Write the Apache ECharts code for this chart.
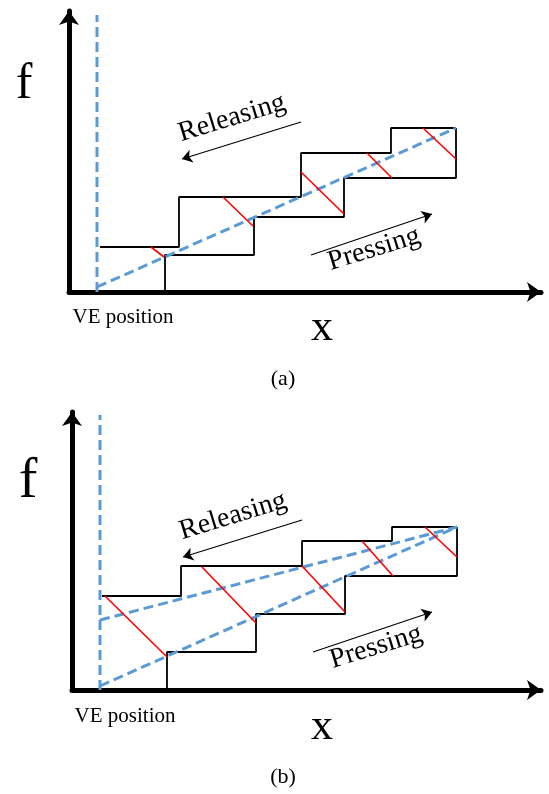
<!DOCTYPE html>
<html>
<head>
<meta charset="utf-8">
<script src="https://cdn.jsdelivr.net/npm/echarts@6/dist/echarts.min.js"></script>
<style>
  html, body { margin: 0; padding: 0; background: #fff; }
  #chart { width: 549px; height: 794px; }
</style>
</head>
<body>
<div id="chart"></div>
<script>
// panel (a): units are offsets from the axis origin
const veLineA      = [[28, 0], [28, 277]]
const slopeA       = [[28, 5], [387, 164]]
const pressStepA   = [[96, 0], [96, 37], [185, 37], [185, 75], [275, 75], [275, 114], [387, 114], [387, 164]]
const releaseStepA = [[387, 164], [322, 164], [322, 139], [232, 139], [232, 95], [110, 95], [110, 45], [31, 45]]
const redA = [
  [[82, 45], [95, 35]],
  [[154, 95], [184, 66]],
  [[232, 120], [275, 78]],
  [[298, 139], [323, 114]],
  [[354, 164], [387, 133]]
]
const releaseArrowA = [[232, 170], [113, 133]]
const pressArrowA   = [[242, 37], [363, 78]]

// panel (b)
const veLineB      = [[28, 0], [28, 275]]
const slopeLowB    = [[28, 4], [385, 163]]
const slopeHighB   = [[28, 70], [385, 163]]
const pressStepB   = [[95, 0], [95, 38], [184, 38], [184, 76], [273, 76], [273, 114], [385, 114], [385, 163]]
const releaseStepB = [[385, 163], [320, 163], [320, 149], [230, 149], [230, 124], [109, 124], [109, 94], [30, 94]]
const redB = [
  [[33, 94], [95, 33]],
  [[130, 123], [184, 67]],
  [[230, 124], [273, 78]],
  [[290, 149], [321, 114]],
  [[353, 163], [385, 133]]
]
const releaseArrowB = [[230, 170], [111, 133]]
const pressArrowB   = [[241, 38], [360, 78]]

const serif = '"Liberation Serif", "DejaVu Serif", serif'
const blue  = '#5b9bd5'

const chart = echarts.init(document.getElementById('chart'))

function axisStyle(idx, max) {
  return {
    gridIndex: idx, type: 'value', min: 0, max: max,
    axisLine: { show: true, symbol: ['none', 'arrow'], symbolSize: [15, 14],
      lineStyle: { color: '#000', width: 5 } },
    axisTick: { show: false }, axisLabel: { show: false }, splitLine: { show: false }
  }
}

function poly(idx, data, color, width, dashed) {
  return {
    type: 'line', xAxisIndex: idx, yAxisIndex: idx, data: data,
    showSymbol: false, silent: true, z: dashed ? 3 : 2,
    lineStyle: { color: color, width: width, type: dashed ? [10, 5] : 'solid' }
  }
}

function segs(idx, list, color, width, arrow) {
  return {
    type: 'lines', coordinateSystem: 'cartesian2d', xAxisIndex: idx, yAxisIndex: idx,
    silent: true, z: 4,
    symbol: arrow ? ['none', 'arrow'] : 'none', symbolSize: 10,
    lineStyle: { color: color, width: width, opacity: 1 },
    data: list.map(c => ({ coords: c }))
  }
}

function txt(text, x, y, size, rot) {
  return {
    type: 'text', x: x, y: y, rotation: (rot || 0) * Math.PI / 180,
    style: { text: text, font: size + 'px ' + serif, fill: '#000',
      textAlign: 'center', textVerticalAlign: 'middle' }
  }
}

chart.setOption({
  animation: false,
  grid: [
    { left: 69, top: 11, width: 472, height: 281 },
    { left: 72, top: 412, width: 469, height: 278 }
  ],
  xAxis: [axisStyle(0, 472), axisStyle(1, 469)],
  yAxis: [axisStyle(0, 281), axisStyle(1, 278)],
  series: [
    poly(0, veLineA, blue, 3, true),
    poly(0, slopeA, blue, 3, true),
    poly(0, pressStepA, '#000', 1.8),
    poly(0, releaseStepA, '#000', 1.8),
    segs(0, redA, '#ff0000', 1.6),
    segs(0, [releaseArrowA, pressArrowA], '#000', 1.2, true),

    poly(1, veLineB, blue, 3, true),
    poly(1, slopeLowB, blue, 3, true),
    poly(1, slopeHighB, blue, 3, true),
    poly(1, pressStepB, '#000', 1.8),
    poly(1, releaseStepB, '#000', 1.8),
    segs(1, redB, '#ff0000', 1.6),
    segs(1, [releaseArrowB, pressArrowB], '#000', 1.2, true)
  ],
  graphic: [
    txt('f', 24, 85, 50),
    txt('x', 322, 328, 44),
    txt('VE position', 123, 317, 21),
    txt('(a)', 283, 379, 22),
    txt('Releasing', 232, 118, 28, 17),
    txt('Pressing', 374, 249, 28, 17),

    txt('f', 28, 482, 56),
    txt('x', 322, 727, 44),
    txt('VE position', 125, 716, 21),
    txt('(b)', 283, 777, 22),
    txt('Releasing', 233, 516, 28, 17),
    txt('Pressing', 376, 647, 28, 17)
  ]
})
</script>
</body>
</html>
